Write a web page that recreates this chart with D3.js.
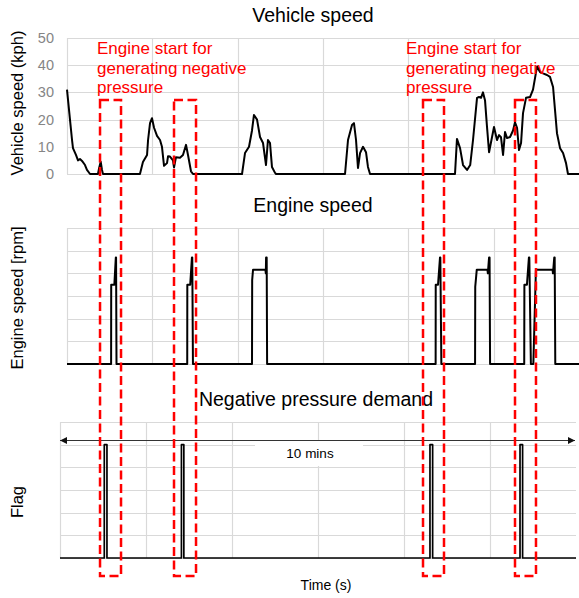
<!DOCTYPE html>
<html>
<head>
<meta charset="utf-8">
<script src="https://cdn.jsdelivr.net/npm/d3@7"></script>
<style>
  body { margin: 0; background: #fff; }
  svg { display: block; font-family: "Liberation Sans", Arial, sans-serif; }
</style>
</head>
<body>
<svg id="chart" width="579" height="598"></svg>
<script>
// ---- data (time in seconds, 10 min window) ----
const timeTicks  = [0, 100, 200, 300, 400, 500, 600];
const speedTicks = [0, 10, 20, 30, 40, 50];
const rpmTicks   = [0, 500, 1000, 1500, 2000, 2500, 3000];
const flagTicks  = [0, 0.2, 0.4, 0.6, 0.8, 1, 1.2];

// [time s, vehicle speed kph]
const vehicleSpeed = [
  [0, 31], [3.5, 20], [5.9, 12.5], [7, 9.5], [10.5, 7], [12.9, 5], [15.2, 5.5], [17.6, 4.8],
  [21.1, 3.3], [23.4, 1.5], [27, 0], [36.3, 0], [37.5, 2], [39.5, 4.5], [41, 1.5], [42.2, 0],
  [85.5, 0], [89, 4.4], [93.8, 7], [95, 12.5], [97.3, 18.7], [99.6, 20.5],
  [102, 17], [105.5, 14], [109, 12.5], [111.3, 10], [113.7, 3], [117.2, 4], [118.4, 6.5],
  [120.7, 6.4], [124.2, 5], [125.4, 2.4], [127.7, 6.2], [132.4, 6], [135.9, 7], [139.5, 10.7],
  [141.8, 7], [145.3, 1], [147.7, 0], [205.1, 0], [208.6, 7.7], [213.3, 10], [216.8, 16],
  [219.1, 21.7], [222.7, 20], [226.2, 13.6], [229.7, 11.4], [233.2, 3.3], [235.5, 12.5],
  [237.9, 11.4], [240.2, 2.6], [243.8, 0.4], [245, 0], [325.8, 0], [329.3, 12.5], [334, 18],
  [336.3, 18.7], [338.7, 12.5], [341, 2.2], [343.4, 7.7], [346.9, 10], [350.4, 8], [352.7, 2.6],
  [355.1, 0], [454.7, 0], [457, 12.9], [460.6, 9.5], [464.1, 3.3], [468.8, 1.5], [472.5, 3.3],
  [475.8, 12.5], [480.5, 28], [482.8, 28.3], [485.2, 28], [487.5, 30], [489.9, 27], [492.2, 17.3],
  [494.6, 8], [498.1, 13.6], [500.4, 17.3], [503.9, 12.5], [506.3, 14.3], [508.6, 13.5], [511, 7],
  [513.3, 15.4], [515.7, 13.2], [519.2, 13.6], [522.7, 16], [525, 19], [527.4, 17], [529.7, 8.8],
  [532.1, 11.4], [534.4, 22.4], [537.9, 28], [542.6, 28.3], [546.1, 31], [550.8, 39.5],
  [554.3, 37.5], [557.8, 37], [562.5, 36.4], [566, 35.7], [569.6, 32], [571.9, 23.5], [574.2, 15],
  [577.8, 9.5], [581.3, 7.7], [584.8, 4], [587.1, 0], [600, 0]
];

// [time s, engine speed rpm]
const engineSpeed = [
  [0, 0], [51.7, 0], [51.8, 1750], [55.5, 1750], [57.2, 2350], [57.5, 2350], [58, 0],
  [140.9, 0], [141, 1750], [144.4, 1750], [146.4, 2350], [146.8, 2350], [147.6, 0],
  [216.8, 0], [217, 1850], [218, 2080], [232.5, 2080], [233, 2000], [233.3, 2350], [234, 2350], [234.5, 0],
  [432, 0], [432.1, 1750], [434.8, 1750], [437.1, 2350], [437.5, 2350], [438.7, 0],
  [478.2, 0], [478.4, 1700], [480.2, 2080], [492.7, 2080], [493.2, 2000], [494.6, 2350], [495.2, 2350], [495.8, 0],
  [535.8, 0], [536, 1750], [539, 1750], [541.3, 2350], [541.8, 2350], [543.6, 0], [546.5, 0],
  [549.5, 2080], [569, 2080], [569.5, 2000], [571, 2350], [571.5, 2350], [572.2, 0], [600, 0]
];

// [time s, negative pressure demand flag]
const demandFlag = [
  [0, 0], [51.5, 0], [51.5, 1], [54.6, 1], [54.6, 0],
  [141.2, 0], [141.2, 1], [144, 1], [144, 0],
  [430.2, 0], [430.2, 1], [433.3, 1], [433.3, 0],
  [534.9, 0], [534.9, 1], [537.9, 1], [537.9, 0], [600, 0]
];

// engine-start windows (s), and annotation anchors (s)
const startWindows = [[38.7, 63.3], [125.4, 151.2], [417.2, 441.8], [525, 549.6]];
const noteTimes = [35.2, 397.3];
const noteLines = ['Engine start for', 'generating negative', 'pressure'];

const svg = d3.select('#chart');
const GRID = '#d9d9d9';

function panel(xRange, yRange, yDomain, yTicks) {
  const x = d3.scaleLinear().domain([0, 600]).range(xRange);
  const y = d3.scaleLinear().domain(yDomain).range(yRange);
  const g = svg.append('g');
  // horizontal grid
  g.selectAll('line.h').data(yTicks).join('line')
    .attr('x1', xRange[0]).attr('x2', xRange[1])
    .attr('y1', d => Math.round(y(d)) + 0.5).attr('y2', d => Math.round(y(d)) + 0.5)
    .attr('stroke', GRID).attr('stroke-width', 1.2);
  // vertical grid (no line at the right edge)
  g.selectAll('line.v').data(timeTicks.slice(0, -1)).join('line')
    .attr('x1', d => Math.round(x(d)) + 0.5).attr('x2', d => Math.round(x(d)) + 0.5)
    .attr('y1', yRange[1]).attr('y2', yRange[0])
    .attr('stroke', GRID).attr('stroke-width', 1.2);
  return { x, y, g };
}

function title(text, cx, y) {
  svg.append('text').attr('x', cx).attr('y', y).attr('text-anchor', 'middle')
    .attr('font-size', 19.5).attr('fill', '#000').text(text);
}

function yLabel(text, x, cy) {
  svg.append('text').attr('transform', `translate(${x},${cy}) rotate(-90)`)
    .attr('text-anchor', 'middle').attr('font-size', 16.5).attr('fill', '#000').text(text);
}

function trace(p, data, w) {
  p.g.append('path').datum(data)
    .attr('fill', 'none').attr('stroke', '#000').attr('stroke-width', w)
    .attr('stroke-linejoin', 'round')
    .attr('d', d3.line().x(d => p.x(d[0])).y(d => p.y(d[1])));
}

// ---- Vehicle speed ----
const p1 = panel([67, 579], [174, 38], [0, 50], speedTicks);
p1.g.selectAll('text.tick').data(speedTicks).join('text')
  .attr('x', 54).attr('y', d => p1.y(d)).attr('dy', '0.35em')
  .attr('text-anchor', 'end').attr('font-size', 14.5).attr('fill', '#858585')
  .text(d => d);
title('Vehicle speed', 313, 22);
yLabel('Vehicle speed (kph)', 23, 103);

// ---- Engine speed ----
const p2 = panel([67, 579], [364, 228], [0, 3000], rpmTicks);
title('Engine speed', 313, 212);
yLabel('Engine speed [rpm]', 23, 298);

// ---- Negative pressure demand ----
const p3 = panel([60, 576], [558, 422], [0, 1.2], flagTicks);
title('Negative pressure demand', 316, 406);
yLabel('Flag', 23, 502);

// 10 min span marker
const labelX = (p3.x(0) + p3.x(600)) / 2;
p3.g.append('rect').attr('x', 255).attr('y', 441).attr('width', 108).attr('height', 25)
  .attr('fill', '#fff');
const defs = svg.append('defs');
defs.append('marker').attr('id', 'arr').attr('viewBox', '0 0 10 10')
  .attr('refX', 10).attr('refY', 5).attr('markerWidth', 9).attr('markerHeight', 7)
  .attr('markerUnits', 'userSpaceOnUse').attr('orient', 'auto-start-reverse')
  .append('path').attr('d', 'M0,0L10,5L0,10Z').attr('fill', '#111');
p3.g.append('line')
  .attr('x1', p3.x(0)).attr('x2', p3.x(600) - 1)
  .attr('y1', 440.5).attr('y2', 440.5)
  .attr('stroke', '#333').attr('stroke-width', 1)
  .attr('marker-start', 'url(#arr)').attr('marker-end', 'url(#arr)');
p3.g.append('text').attr('x', labelX - 8).attr('y', 458).attr('text-anchor', 'middle')
  .attr('font-size', 13.5).attr('fill', '#000').text('10 mins');

svg.append('text').attr('x', 326).attr('y', 590).attr('text-anchor', 'middle')
  .attr('font-size', 14).attr('fill', '#000').text('Time (s)');

// red annotation text
noteTimes.forEach(t => {
  const tx = svg.append('text').attr('x', p1.x(t)).attr('y', 54)
    .attr('font-size', 17).attr('fill', '#ff0000');
  noteLines.forEach((line, i) => {
    tx.append('tspan').attr('x', p1.x(t)).attr('dy', i === 0 ? 0 : 19.5).text(line);
  });
});

trace(p1, vehicleSpeed, 2);
trace(p2, engineSpeed, 2);
trace(p3, demandFlag, 1.7);

// red dashed engine-start boxes spanning all panels
svg.append('g').selectAll('rect').data(startWindows).join('rect')
  .attr('x', d => p1.x(d[0])).attr('width', d => p1.x(d[1]) - p1.x(d[0]))
  .attr('y', 100).attr('height', 476)
  .attr('fill', 'none').attr('stroke', '#ff0000').attr('stroke-width', 2.5)
  .attr('stroke-dasharray', '9,4.5');
</script>
</body>
</html>
